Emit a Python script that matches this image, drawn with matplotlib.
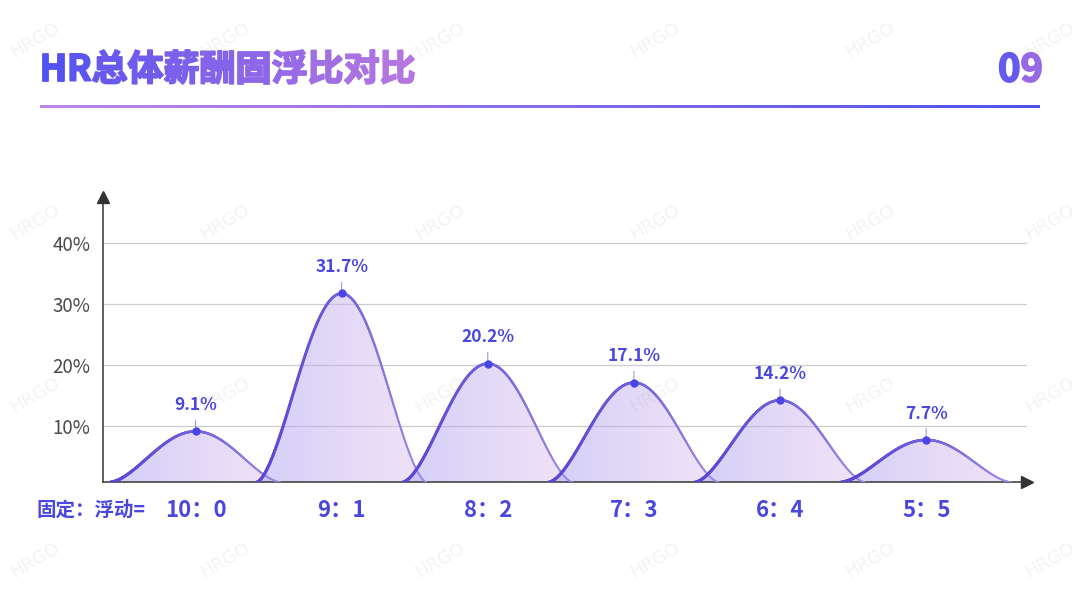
import numpy as np
import matplotlib
matplotlib.use('Agg')
import matplotlib.pyplot as plt
from matplotlib.colors import to_rgb
from matplotlib.collections import LineCollection
from matplotlib.patches import PathPatch, Polygon
from matplotlib.path import Path
from matplotlib.textpath import TextPath, text_to_path
from matplotlib.font_manager import FontProperties

plt.rcParams['font.family'] = ['Noto Sans CJK SC', 'DejaVu Sans']

# ---------------- data ----------------
title = 'HR总体薪酬固浮比对比'
page_no = '09'
prefix = '固定：浮动='
categories = ['10：0', '9：1', '8：2', '7：3', '6：4', '5：5']
values = [9.1, 31.7, 20.2, 17.1, 14.2, 7.7]
yticks = [10, 20, 30, 40]
ytick_labels = ['10%', '20%', '30%', '40%']

# ---------------- figure ----------------
W, H = 1080, 608
fig = plt.figure(figsize=(W / 100, H / 100), dpi=100)
fig.patch.set_facecolor('white')
bg = fig.add_axes([0, 0, 1, 1], zorder=0)
bg.set_xlim(0, W)
bg.set_ylim(0, H)
bg.axis('off')


def grad_row(c1, c2, n=256):
    a = np.array(to_rgb(c1))
    b = np.array(to_rgb(c2))
    t = np.linspace(0, 1, n)[None, :, None]
    return a + (b - a) * t


def gradient_text(s, x, bottom_px, size, c1, c2, ha='left', stroke=1.3):
    prop = FontProperties(family='Noto Sans CJK SC', weight='heavy')
    full = TextPath((0, 0), s, size=size, prop=prop)
    ext = full.get_extents()
    dx = (x - ext.x0) if ha == 'left' else (x - ext.x1)
    dy = (H - bottom_px) - ext.y0
    a = np.array(to_rgb(c1))
    b = np.array(to_rgb(c2))
    n = len(s)
    for k, ch in enumerate(s):
        adv = text_to_path.get_text_width_height_descent(s[:k], prop, ismath=False)[0] \
            * size / prop.get_size_in_points() if k > 0 else 0.0
        tp = TextPath((0, 0), ch, size=size, prop=prop)
        path = Path(tp.vertices + np.array([dx + adv, dy]), tp.codes)
        col = a + (b - a) * (k + 0.5) / n
        bg.add_patch(PathPatch(path, facecolor=col, edgecolor=col, lw=stroke,
                               joinstyle='round', transform=bg.transData, zorder=2))


gradient_text(title, 43, 84, 36, '#4f4ff2', '#b878e0')
gradient_text(page_no, 1041, 82, 38, '#4c52f0', '#b070e2', ha='right')

# separator line with gradient
bg.imshow(grad_row('#c084e6', '#4f52ea'), extent=[40, 1040, H - 108, H - 105.5],
          aspect='auto', interpolation='bilinear', zorder=2)
bg.set_xlim(0, W)
bg.set_ylim(0, H)

# ---------------- chart ----------------
ax = fig.add_axes([103 / W, (H - 482) / H, 924 / W, 285 / H], zorder=2)
ax.patch.set_alpha(0)
base = 0.8
xl = (-0.633, 5.69)
yl = (base, 47.5)

for yt in yticks:
    ax.axhline(yt, color='#cccccc', lw=0.9, zorder=1)

hw = 0.58
t = np.linspace(-1, 1, 300)
shape = ((1 + np.cos(np.pi * t)) / 2) ** 0.8
c_left = np.array(to_rgb('#5a48d6'))
c_right = np.array(to_rgb('#a08ee6'))

for i, v in enumerate(values):
    xs = i + hw * t
    ys = base + (v - base) * shape
    poly = Polygon(np.column_stack([xs, ys]), closed=True, facecolor='none',
                   edgecolor='none', transform=ax.transData)
    ax.add_patch(poly)
    im = ax.imshow(grad_row('#ab9ff0', '#e3c7ef'), extent=[i - hw, i + hw, base, v],
                   aspect='auto', interpolation='bilinear', alpha=0.5, zorder=2)
    im.set_clip_path(poly)
    pts = np.column_stack([xs, ys]).reshape(-1, 1, 2)
    segs = np.concatenate([pts[:-1], pts[1:]], axis=1)
    f = np.linspace(0, 1, len(segs))[:, None]
    cols = c_left + (c_right - c_left) * f ** 1.5
    lws = 2.2 - 1.0 * f[:, 0] ** 1.5
    ax.add_collection(LineCollection(segs, colors=cols, linewidths=lws, zorder=3,
                                     capstyle='round'))
    ax.annotate('', xy=(i, v), xytext=(0, 10), textcoords='offset points',
                arrowprops=dict(arrowstyle='-', color='#9c9ad0', lw=0.8), zorder=3)
    ax.plot([i], [v], 'o', ms=5, color='#4a46e6', zorder=4)
    ax.annotate(f'{v:.1f}%', xy=(i, v), xytext=(0, 19), textcoords='offset points',
                ha='center', va='center', fontsize=12.5, color='#4a47e0',
                fontweight='bold', zorder=5)

ax.set_xlim(*xl)
ax.set_ylim(*yl)

for s in ['top', 'right']:
    ax.spines[s].set_visible(False)
for s in ['left', 'bottom']:
    ax.spines[s].set_color('#444444')
    ax.spines[s].set_linewidth(1.2)
ax.plot([1], [0], marker='>', ms=8, color='#333333', transform=ax.transAxes,
        clip_on=False, zorder=6)
ax.plot([0], [1], marker='^', ms=8, color='#333333', transform=ax.transAxes,
        clip_on=False, zorder=6)

ax.set_yticks(yticks, labels=ytick_labels)
ax.set_xticks(range(len(categories)), labels=categories)
ax.tick_params(axis='y', length=0, pad=9, labelsize=13.5, labelcolor='#4a4a4a')
ax.tick_params(axis='x', length=0, pad=12, labelsize=16, labelcolor='#4a47e0')
for lab in ax.get_xticklabels():
    lab.set_fontweight('bold')

fig.text(37 / W, (H - 510) / H, prefix, fontsize=14, fontweight='bold',
         color='#4a47e0', ha='left', va='center')

# watermarks
for wx in [35, 225, 440, 655, 870, 1050]:
    for wy in [40, 222, 395, 560]:
        fig.text(wx / W, (H - wy) / H, 'HRGO', rotation=30, fontsize=13,
                 color='#888888', alpha=0.10, ha='center', va='center', zorder=10,
                 family='DejaVu Sans')

fig.savefig('out.png', dpi=100, facecolor='white')
